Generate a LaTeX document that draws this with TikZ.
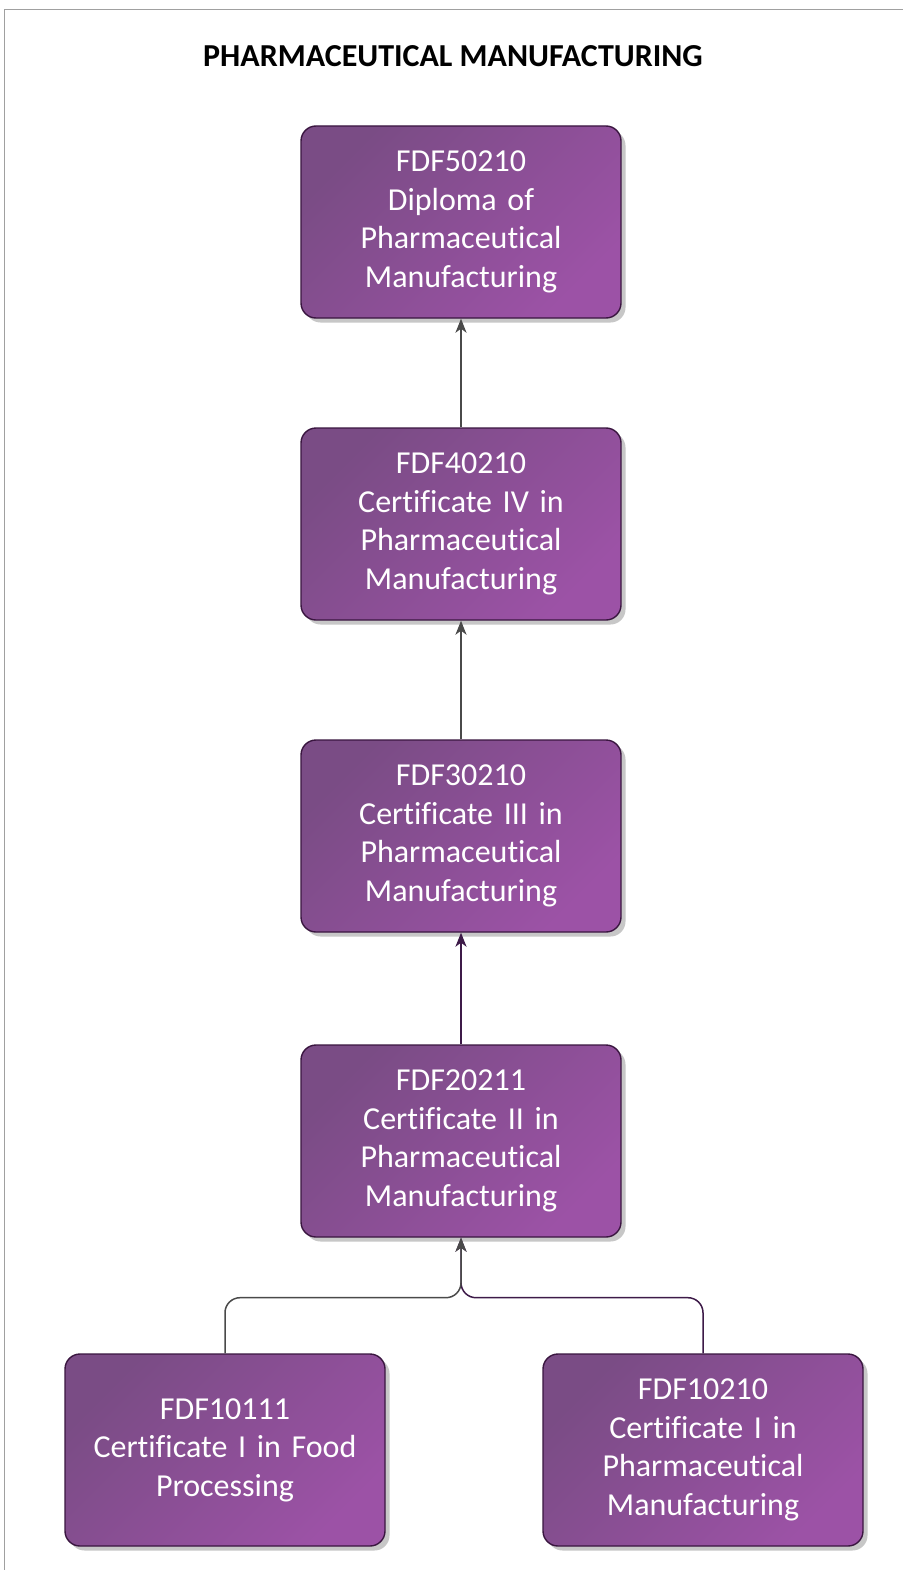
\documentclass[tikz,border=0pt]{standalone}
\usepackage{fontspec}
\setmainfont{Carlito}[Ligatures=NoCommon]
\usetikzlibrary{arrows.meta,shadows}
\definecolor{boxdark}{HTML}{7A4C85}
\definecolor{boxlight}{HTML}{9C52A6}
\definecolor{boxedge}{HTML}{3A1640}
\definecolor{linkgray}{HTML}{4A4A4A}
\definecolor{linkplum}{HTML}{3D1A48}
\definecolor{framegray}{HTML}{A0A0A0}
\tikzset{
  qual/.style={
    draw=boxedge, line width=1.4pt, rounded corners=15pt,
    top color=boxdark, bottom color=boxlight, shading angle=45,
    minimum width=320pt, minimum height=192pt, text width=310pt,
    align=center, text=white, inner sep=0pt,
    font=\fontsize{32}{38.5}\selectfont,
    general shadow={fill=black!22, shadow xshift=4.5pt, shadow yshift=-4.5pt}
  },
  linkg/.style={draw=linkgray, line width=1.5pt, -{Stealth[length=14pt,width=11pt,inset=4pt]}},
  linkp/.style={draw=linkplum, line width=1.5pt, -{Stealth[length=14pt,width=11pt,inset=4pt]}}
}
\begin{document}
\begin{tikzpicture}[x=1pt,y=-1pt]
\useasboundingbox (0,0) rectangle (903,1570);
\fill[white] (0,0) rectangle (903,1570);
\draw[framegray, line width=1pt] (4,1570) -- (4,10) -- (903,10);

\node[font=\bfseries\fontsize{32}{36}\selectfont] (title) at (453,56) {PHARMACEUTICAL MANUFACTURING};

\node[qual] (dip) at (461,222) {FDF50210\\Diploma of\\Pharmaceutical\\Manufacturing};
\node[qual] (c4) at (461,524) {FDF40210\\Certificate IV in\\Pharmaceutical\\Manufacturing};
\node[qual] (c3) at (461,836) {FDF30210\\Certificate III in\\Pharmaceutical\\Manufacturing};
\node[qual] (c2) at (461,1141) {FDF20211\\Certificate II in\\Pharmaceutical\\Manufacturing};
\node[qual] (food) at (225,1450) {FDF10111\\Certificate I in Food\\Processing};
\node[qual] (c1) at (703,1450) {FDF10210\\Certificate I in\\Pharmaceutical\\Manufacturing};

\draw[linkg] (c4.north) -- (dip.south);
\draw[linkg] (c3.north) -- (c4.south);
\draw[linkp] (c2.north) -- (c3.south);
\draw[linkp, rounded corners=15pt] (c1.north) |- ([yshift=-60pt]c2.south) -- (c2.south);
\draw[linkg, rounded corners=15pt] (food.north) |- ([yshift=-60pt]c2.south) -- (c2.south);
\end{tikzpicture}
\end{document}
